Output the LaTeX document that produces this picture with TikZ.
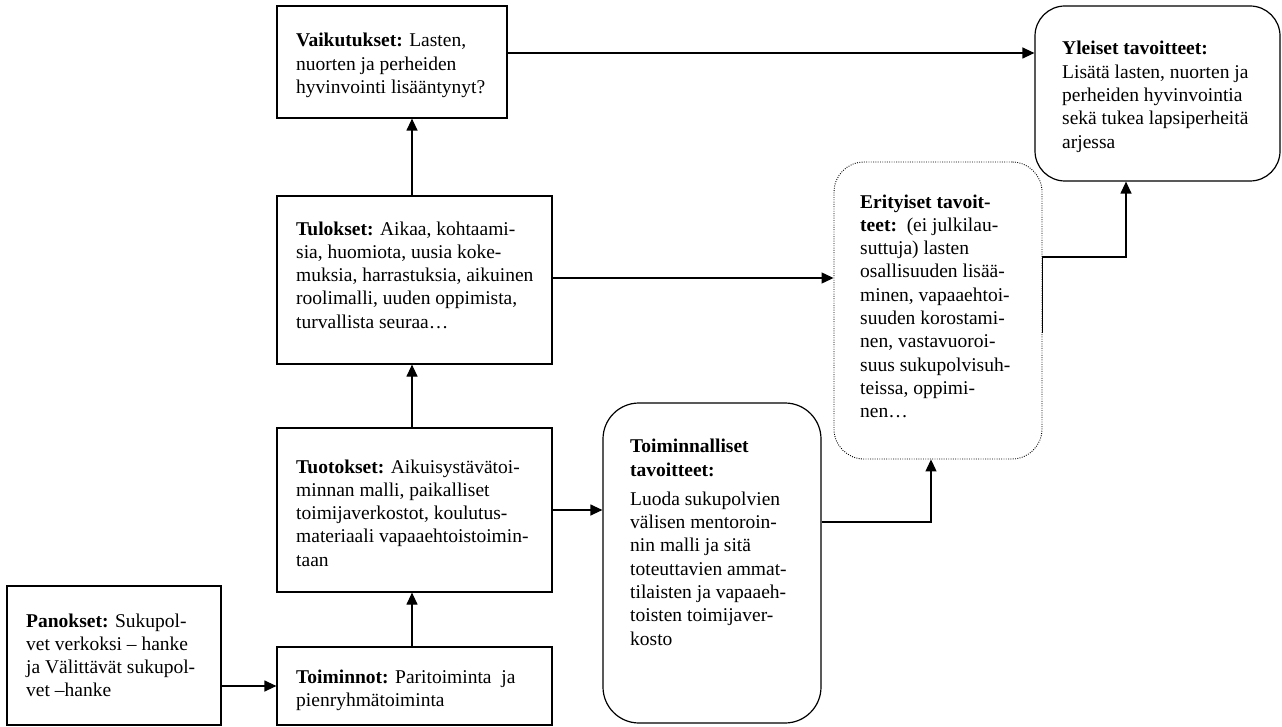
\documentclass[tikz,border=0pt]{standalone}
\usepackage{fontspec}
\setmainfont{Liberation Serif}
\usetikzlibrary{arrows.meta,calc}
\begin{document}
\begin{tikzpicture}[x=1pt,y=-1pt,
  box/.style={draw, line width=1.2pt, inner sep=0pt, rectangle},
  rbox/.style={box, rounded corners=32pt},
  dbox/.style={draw, line width=0.9pt, inner sep=0pt, rectangle, rounded corners=30pt, dash pattern=on 0.9pt off 1.4pt},
  txt/.style={anchor=base west, inner sep=0pt, align=left, font=\fontsize{19.5}{23.3}\selectfont},
  arr/.style={line width=1.2pt, -{Triangle[length=12pt,width=11pt]}}]
\useasboundingbox (0,0) rectangle (1282,727);

% boxes
\node[box, minimum width=230pt, minimum height=112pt] (vaik) at (392,62) {};
\node[box, minimum width=275pt, minimum height=168pt] (tulo) at (414.5,280) {};
\node[box, minimum width=275pt, minimum height=164pt] (tuot) at (414.5,510) {};
\node[box, minimum width=275pt, minimum height=78pt] (toim) at (414.5,686) {};
\node[box, minimum width=214pt, minimum height=139pt] (pano) at (114,655.5) {};
\node[rbox, rounded corners=36pt, minimum width=218pt, minimum height=320pt] (toimt) at (712,563) {};
\node[dbox, minimum width=208pt, minimum height=297pt] (erit) at (938,310.5) {};
\node[rbox, rounded corners=30pt, minimum width=245pt, minimum height=175pt] (ylei) at (1157.5,93.5) {};

% texts (anchored at the baseline of their last line)
\node[txt] (tvaik) at (296,93.6) {\textbf{Vaikutukset:} Lasten,\\nuorten ja perheiden\\hyvinvointi lisääntynyt?};
\node[txt] (ttulo) at (296,328.2) {\textbf{Tulokset:} Aikaa, kohtaami-\\sia, huomiota, uusia koke-\\muksia, harrastuksia, aikuinen\\roolimalli, uuden oppimista,\\turvallista seuraa…};
\node[txt] (ttuot) at (296,566.2) {\textbf{Tuotokset:} Aikuisystävätoi-\\minnan malli, paikalliset\\toimijaverkostot, koulutus-\\materiaali vapaaehtoistoimin-\\taan};
\node[txt] (ttoim) at (296,706.3) {\textbf{Toiminnot:} Paritoiminta\ \ ja\\pienryhmätoiminta};
\node[txt] (tpano) at (26,696.9) {\textbf{Panokset:} Sukupol-\\vet verkoksi – hanke\\ja Välittävät sukupol-\\vet –hanke};
\node[txt] (ttoimt) at (630,645) {\textbf{Toiminnalliset}\\\textbf{tavoitteet:}\\[5.7pt]Luoda sukupolvien\\välisen mentoroin-\\nin malli ja sitä\\toteuttavien ammat-\\tilaisten ja vapaaeh-\\toisten toimijaver-\\kosto};
\node[txt] (terit) at (860,417.7) {\textbf{Erityiset tavoit-}\\\textbf{teet:}\ \ (ei julkilau-\\suttuja) lasten\\osallisuuden lisää-\\minen, vapaaehtoi-\\suuden korostami-\\nen, vastavuoroi-\\suus sukupolvisuh-\\teissa, oppimi-\\nen…};
\node[txt] (tylei) at (1062,148.2) {\textbf{Yleiset tavoitteet:}\\Lisätä lasten, nuorten ja\\perheiden hyvinvointia\\sekä tukea lapsiperheitä\\arjessa};

% connectors
\draw[arr] (pano.east |- toim.west) -- (toim.west);
\draw[arr] ([xshift=-2.5pt]toim.north) -- ([xshift=-2.5pt]tuot.south);
\draw[arr] ([xshift=-2.5pt]tuot.north) -- ([xshift=-2.5pt]tulo.south);
\draw[arr] ([xshift=-2.5pt]tulo.north) -- ([xshift=-2.5pt]tulo.north |- vaik.south);
\draw[arr] ([yshift=9pt]vaik.east) -- ([yshift=9pt]vaik.east -| ylei.west);
\draw[arr] ([yshift=2pt]tulo.east) -- ([yshift=2pt]tulo.east -| erit.west);
\draw[arr] (tuot.east) -- (tuot.east -| toimt.west);
\draw[arr] ([yshift=41pt]toimt.east) -| ([xshift=-7pt]erit.south);
\coordinate (bend) at ([yshift=53.5pt]erit.east);
\draw[arr] ([yshift=-22.5pt]erit.east) -- (bend) -| ([xshift=-31.5pt]ylei.south);
\end{tikzpicture}
\end{document}
